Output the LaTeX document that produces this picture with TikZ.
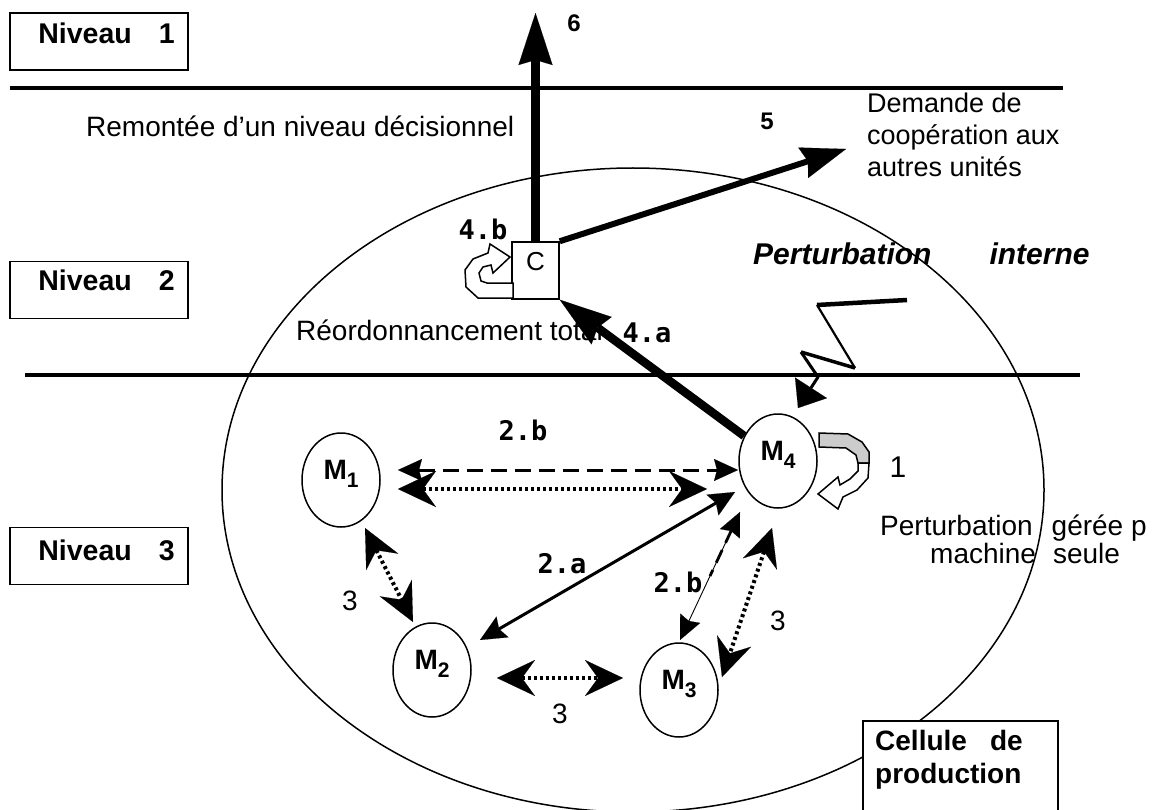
\documentclass[tikz,border=0pt]{standalone}
\usepackage{fontspec}
\setmainfont{Liberation Sans}
\newfontfamily\codefont{DejaVu Sans Mono}
\usetikzlibrary{arrows.meta,calc,shapes.geometric}
\newcommand\sizept[1]{\fontsize{#1pt}{#1pt}\selectfont}
% put text with its baseline #1 below the node centre, taking no room
\newcommand\basedown[2]{\raisebox{-#1pt}[0pt][0pt]{#2}}

\begin{document}
\begin{tikzpicture}[x=1pt,y=-1pt,
  rule/.style={line width=4.3pt},
  lvl/.style={draw,line width=1.5pt,minimum width=178pt,minimum height=57pt,inner sep=0pt,font=\sizept{28.5}\bfseries},
  mach/.style={draw,ellipse,line width=1.5pt,minimum width=78pt,minimum height=94pt,inner sep=0pt,font=\sizept{28}\bfseries},
  plain/.style={inner sep=0pt,font=\sizept{28}},
  boldtxt/.style={inner sep=0pt,font=\sizept{28}\bfseries},
  code/.style={inner sep=0pt,font=\codefont\bfseries\sizept{27}},
  heavyarrow/.style={line width=8.5pt,-{Stealth[length=52pt,width=34pt,inset=5pt,line width=0.1pt]}},
  fivearrow/.style={line width=6pt,-{Stealth[length=45pt,width=32pt,inset=5pt,line width=0.1pt]}},
  solidtwo/.style={line width=3pt,{Stealth[length=26pt,width=24pt,inset=4pt,line width=0.1pt]}-{Stealth[length=26pt,width=24pt,inset=4pt,line width=0.1pt]}},
  dashtwo/.style={line width=3pt,dash pattern=on 16pt off 8pt,{Stealth[length=24pt,width=22pt,inset=3pt,line width=0.1pt]}-{Stealth[length=24pt,width=22pt,inset=3pt,line width=0.1pt]}},
  dottwo/.style={line width=4pt,dash pattern=on 3pt off 3pt,{Stealth[length=38pt,width=36pt,inset=13pt,line width=0.1pt]}-{Stealth[length=38pt,width=36pt,inset=13pt,line width=0.1pt]}},
  outline/.style={line width=1.5pt,line join=miter}
]
\useasboundingbox (0,0) rectangle (1161,810);

% production cell
\node[draw,ellipse,line width=1.5pt,minimum width=822pt,minimum height=644pt,inner sep=0pt] (cell) at (633,490) {};

% decision level separators
\coordinate (r1a) at (10,88);   \coordinate (r1b) at (1063,88);
\coordinate (r2a) at (25,375);  \coordinate (r2b) at (1080,375);
\draw[rule] (r1a) -- (r1b);
\draw[rule] (r2a) -- (r2b);

% level labels
\node[lvl] (lv1) at (99,41.5) {\basedown{2}{\hspace*{15pt}Niveau\hspace{27pt}1}};
\node[lvl] (lv2) at (99,290) {\basedown{0.5}{\hspace*{15pt}Niveau\hspace{27pt}2}};
\node[lvl] (lv3) at (99,556) {\basedown{4}{\hspace*{15pt}Niveau\hspace{27pt}3}};

% texts
\node[plain,anchor=base west] (remontee) at (86,137) {Remontée d'un niveau décisionnel};
\node[plain,anchor=base west,font=\sizept{27}] (dem1) at (867,113) {Demande de};
\node[plain,anchor=base west,font=\sizept{27}] (dem2) at (867,145) {coopération aux};
\node[plain,anchor=base west,font=\sizept{27}] (dem3) at (867,177) {autres unités};
\node[inner sep=0pt,anchor=base west,font=\sizept{30}\bfseries\itshape] (pint) at (753,265) {Perturbation\hspace{58pt}interne};
\node[plain,anchor=base west] (reord) at (296,340) {Réordonnancement total};
\node[plain,anchor=base west] (pg1) at (880,535) {Perturbation\hspace{19pt}gérée p};
\node[plain,anchor=base west] (pg2) at (930,563) {machine\hspace{17pt}seule};

% number labels
\node[inner sep=0pt,anchor=base,font=\sizept{24}\bfseries] (n6) at (574,32) {6};
\node[inner sep=0pt,anchor=base,font=\sizept{24}\bfseries] (n5) at (767,130) {5};
\node[code,anchor=base] (l4b) at (483,240) {4.b};
\node[code,anchor=base] (l4a) at (647,342) {4.a};
\node[code,anchor=base] (l2b) at (523,440) {2.b};
\node[code,anchor=base] (l2a) at (562,573) {2.a};
\node[code,anchor=base] (l2bb) at (678,592) {2.b};
\node[plain,anchor=base] (l3a) at (350,610) {3};
\node[plain,anchor=base] (l3b) at (560,723) {3};
\node[plain,anchor=base] (l3c) at (778,630) {3};
\node[plain,anchor=base,font=\sizept{30}] (l1) at (898,477) {1};

% coordinator and machines
\node[draw,line width=1.5pt,minimum width=47pt,minimum height=57pt,inner sep=0pt,font=\sizept{26}] (C) at (535.5,270.5) {\basedown{-0.5}{C}};
\node[mach] (M1) at (341,480) {\basedown{-1}{M\raisebox{-8pt}{\sizept{21}1}}};
\node[mach] (M2) at (432,670) {\basedown{-1}{M\raisebox{-8pt}{\sizept{21}2}}};
\node[mach] (M3) at (679,690) {\basedown{-1}{M\raisebox{-8pt}{\sizept{21}3}}};
\node[mach] (M4) at (778,461) {\basedown{-1}{M\raisebox{-8pt}{\sizept{21}4}}};

% escalation to the upper level and request to other units
\coordinate (tip6) at (535.5,13);
\coordinate (tip5) at (846,149);
\draw[heavyarrow] (C.north) -- (tip6);
\draw[fivearrow] (C.north east) -- (tip5);
\draw[heavyarrow] (M4) -- (C.south east);

% local re-scheduling loop of the coordinator
\draw[outline,fill=white] (513,298) -- (478,298) -- (466,287) -- (465,270) -- (473,259) -- (488,253)
  -- (490,244) -- (510,257) -- (493,273) -- (491,265) -- (483,267) -- (479,273) -- (481,281)
  -- (487,283) -- (513,283) -- cycle;

% exchanges between machines
\draw[dashtwo] ($(M1)+(57,-10)$) -- ($(M4)+(-40,9)$);
\draw[dottwo] ($(M1)+(57,9)$) -- ($(M4)+(-71,28)$);
\draw[solidtwo] ($(M4)+(-43,31)$) -- ($(M2)+(48,-30)$);
\draw[line width=0.9pt,{Stealth[length=24pt,width=22pt,inset=3pt,line width=0.1pt]}-{Stealth[length=24pt,width=22pt,inset=3pt,line width=0.1pt]}]
  ($(M4)+(-38,51)$) -- ($(M3)+(1,-50)$);
\draw[line width=2.8pt,dash pattern=on 14pt off 8pt,shorten <=20pt] ($(M4)+(-38,51)$) -- ($($(M4)+(-38,51)$)!0.5!($(M3)+(1,-50)$)$);
\draw[dottwo] ($(M1)+(24,48)$) -- ($(M2)+(-19,-48)$);
\draw[dottwo] ($(M2)+(65,8)$) -- ($(M3)+(-56,-12)$);
\draw[dottwo] ($(M4)+(-6,67)$) -- ($(M3)+(43,-13)$);

% internal disturbance striking M4
\coordinate (z1) at (907,300); \coordinate (z2) at (817,305);
\coordinate (z3) at (855,368); \coordinate (z4) at (801,352);
\coordinate (z5) at (818,377); \coordinate (z6) at (798,408);
\draw[line width=4.5pt] (z1) -- (z2);
\draw[line width=2.2pt] (z2) -- (z3);
\draw[line width=3.5pt] (z3) -- (z4);
\draw[line width=3pt,line join=round,-{Triangle[length=24pt,width=38pt,line width=0.1pt]}] (z4) -- (z5) -- (z6);

% disturbance handled by the machine itself
\filldraw[outline,fill=black!20] (819,433) -- (848,434) -- (862,442) -- (869,452) -- (869,463)
  -- (858,463) -- (856,455) -- (846,448) -- (819,447) -- cycle;
\draw[outline,fill=white] (869,463) -- (868,478) -- (857,490) -- (843,497) -- (838,509) -- (818,494)
  -- (838,477) -- (840,485) -- (850,479) -- (858,471) -- (858,463) -- cycle;

% cell label
\node[draw,fill=white,line width=1.5pt,anchor=north west,minimum width=195pt,minimum height=110pt,inner sep=0pt] (cellbox) at (862,720) {};
\node[boldtxt,anchor=base west] (cl1) at (875,750) {Cellule\hspace{23pt}de};
\node[boldtxt,anchor=base west] (cl2) at (875,783) {production};
\end{tikzpicture}
\end{document}
